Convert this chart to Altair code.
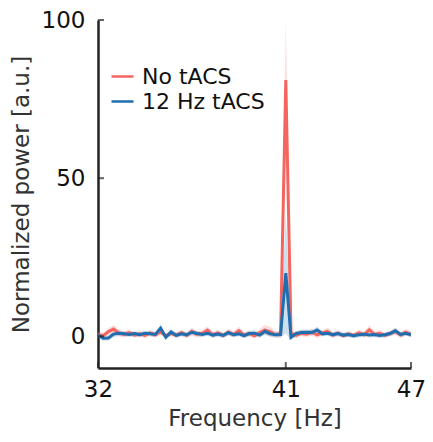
import altair as alt
import pandas as pd

freq = [32 + 0.25 * i for i in range(61)]

no_tacs = [0.5, 0.2, 1.5, 2.3, 1.0, 0.6, 1.2, 0.4, 0.8, 0.3,
           1.0, 0.5, 1.4, 0.2, 0.9, 0.4, 1.2, 0.3, 1.6, 0.6,
           1.0, 2.0, 0.5, 1.1, 0.3, 1.3, 0.6, 1.8, 0.4, 0.9,
           0.2, 1.2, 2.0, 1.5, 0.6, 0.8, 81.0, 0.9, 0.3, 1.0,
           0.7, 1.3, 0.5, 1.1, 1.6, 0.4, 1.0, 0.2, 0.8, 0.3,
           1.1, 0.5, 2.1, 0.6, 1.0, 0.3, 0.9, 1.5, 0.4, 1.3, 0.6]
no_tacs_err = [1.0, 0.9, 1.1, 1.3, 1.0, 0.9, 1.0, 0.8, 0.9, 0.8,
               1.0, 0.9, 1.1, 0.8, 0.9, 0.8, 1.0, 0.9, 1.3, 1.0,
               1.0, 1.2, 0.9, 1.0, 0.8, 1.0, 0.9, 1.2, 0.9, 1.0,
               0.9, 1.1, 1.6, 1.5, 1.0, 1.0, 19.0, 1.0, 0.9, 1.0,
               0.9, 1.1, 0.9, 1.0, 1.1, 0.9, 1.0, 0.8, 0.9, 0.8,
               1.0, 0.9, 1.3, 0.9, 1.0, 0.8, 0.9, 1.1, 0.9, 1.0, 0.9]

tacs12 = [0.4, -0.6, -0.5, 0.7, 1.0, 0.8, 0.6, 0.9, 0.5, 1.0,
          0.8, 0.6, 2.6, -0.3, 1.4, 0.3, 0.8, 0.5, 1.3, 0.9,
          0.6, 1.0, 0.4, 0.7, 0.3, 1.2, 0.5, 0.8, 0.2, 0.9,
          1.0, 0.4, 1.6, 0.8, 0.5, 0.6, 20.0, -0.3, 0.9, 1.2,
          1.3, 1.2, 2.0, 0.8, 1.0, 0.5, 0.9, 0.4, 0.6, 0.2,
          0.5, 0.7, 0.4, 0.6, 0.3, 0.5, 0.9, 1.8, 0.6, 1.0, 0.5]
tacs12_err = [0.8, 0.8, 0.8, 0.9, 0.9, 0.8, 0.8, 0.8, 0.8, 0.8,
              0.8, 0.8, 1.0, 0.8, 0.9, 0.8, 0.8, 0.8, 0.9, 0.8,
              0.8, 0.8, 0.8, 0.8, 0.8, 0.9, 0.8, 0.8, 0.8, 0.8,
              0.9, 0.8, 1.0, 0.9, 0.8, 1.0, 19.0, 1.0, 0.8, 0.9,
              0.9, 0.9, 1.0, 0.8, 0.8, 0.8, 0.8, 0.8, 0.8, 0.8,
              0.8, 0.8, 0.8, 0.8, 0.8, 0.8, 0.8, 1.0, 0.8, 0.8, 0.8]

groups = ["No tACS", "12 Hz tACS"]
colors = ["#F4655F", "#1F6EB0"]
x_ticks = [32, 41, 47]
y_ticks = [0, 50, 100]

rows = []
for f, v, e in zip(freq, no_tacs, no_tacs_err):
    rows.append({"freq": f, "group": groups[0], "value": v, "lo": v - e, "hi": v + e, "order": 0})
for f, v, e in zip(freq, tacs12, tacs12_err):
    rows.append({"freq": f, "group": groups[1], "value": v, "lo": v - e, "hi": v + e, "order": 1})
df = pd.DataFrame(rows)

W, H = 313, 348
FONT = "DejaVu Sans"

xscale = alt.Scale(domain=[32, 47], nice=False, zero=False)
yscale = alt.Scale(domain=[-10, 100], nice=False, zero=False)

x_enc = alt.X("freq:Q", scale=xscale,
              axis=alt.Axis(values=x_ticks, title="Frequency [Hz]", ticks=False, grid=False,
                            labelFlush=False, labelPadding=10, titlePadding=6, format="d"))
y_enc = alt.Y("value:Q", scale=yscale,
              axis=alt.Axis(values=y_ticks, title="Normalized power [a.u.]", ticks=False, grid=False,
                            labelFlush=False, labelPadding=13, titlePadding=8))

base = alt.Chart(df)

band_layers = []
for g, c in zip(groups, colors):
    band_layers.append(
        base.transform_filter(alt.datum.group == g).mark_area(opacity=0.22, clip=True).encode(
            x=alt.X("freq:Q", scale=xscale),
            y=alt.Y("lo:Q", scale=yscale),
            y2="hi:Q",
            fill=alt.value(c),
        )
    )

lines = base.mark_line(strokeWidth=3, clip=True).encode(
    x=x_enc,
    y=y_enc,
    color=alt.Color("group:N", scale=alt.Scale(domain=groups, range=colors), sort=groups,
                    legend=alt.Legend(title=None, orient="none", legendX=12, legendY=44,
                                      symbolType="stroke", symbolSize=484, symbolStrokeWidth=2.5,
                                      labelFontSize=22, labelFont=FONT, labelOffset=7,
                                      rowPadding=1, padding=0, labelColor="#111")),
    order=alt.Order("order:Q"),
)

xt = alt.Chart(pd.DataFrame({"t": x_ticks})).mark_tick(
    color="#222", thickness=2, size=6, yOffset=-3).encode(
    x=alt.X("t:Q", scale=xscale), y=alt.value(H))

yt = alt.Chart(pd.DataFrame({"t": y_ticks})).mark_tick(
    color="#222", thickness=2, size=6, xOffset=3).encode(
    y=alt.Y("t:Q", scale=yscale), x=alt.value(0))

chart = alt.layer(*band_layers, lines, xt, yt).properties(
    width=W, height=H,
    autosize=alt.AutoSizeParams(type="none"),
    padding={"left": 90, "top": 12, "right": 14, "bottom": 66},
).configure_view(stroke=None).configure_axis(
    domainColor="#222", domainWidth=2.5, labelFont=FONT, titleFont=FONT,
    labelFontSize=23, titleFontSize=23, labelColor="#111", titleColor="#333",
    titleFontWeight="normal",
)

chart.save("out.html", embed_options={"renderer": "svg", "actions": False})
